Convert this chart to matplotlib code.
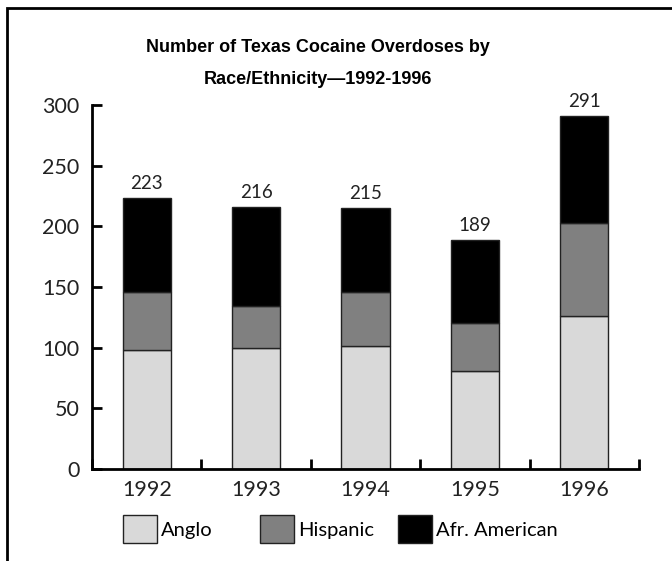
import matplotlib
matplotlib.use("Agg")
import matplotlib.pyplot as plt
from matplotlib.patches import Rectangle
import numpy as np

# overdose counts by year and group
years = ["1992", "1993", "1994", "1995", "1996"]
anglo = [98, 100, 101, 81, 126]
hispanic = [48, 34, 45, 39, 77]
totals = [223, 216, 215, 189, 291]
afr_american = [t - a - h for t, a, h in zip(totals, anglo, hispanic)]

groups = ["Anglo", "Hispanic", "Afr. American"]
colors = ["#d9d9d9", "#808080", "#000000"]
legend_x = [123, 260, 398]  # left edge of each key, px

plt.rcParams["font.family"] = ["Lato", "DejaVu Sans"]

fig = plt.figure(figsize=(6.72, 5.61), dpi=100)
ax = fig.add_axes([92 / 672, 1 - 469 / 561, (639 - 92) / 672, (469 - 105) / 561])

x = np.arange(len(years))
w = 0.44
bottom = np.zeros(len(years))
handles = []
for vals, col, name in zip([anglo, hispanic, afr_american], colors, groups):
    b = ax.bar(x, vals, w, bottom=bottom, color=col, edgecolor="#222222",
               linewidth=1.0, label=name)
    handles.append(b)
    bottom += np.array(vals)

for xi, t in zip(x, totals):
    ax.text(xi, t + 5, str(t), ha="center", va="bottom", fontsize=13.5,
            color="#222222")

ax.set_xlim(-0.5, len(years) - 0.5)
ax.set_ylim(0, 300)
ax.set_yticks(range(0, 301, 50))
ax.set_xticks(x)
ax.set_xticklabels(years)
ax.set_xticks(np.arange(-0.5, len(years), 1.0), minor=True)

for s in ["top", "right"]:
    ax.spines[s].set_visible(False)
for s in ["left", "bottom"]:
    ax.spines[s].set_linewidth(2)

ax.tick_params(axis="y", direction="in", length=7, width=2, pad=9,
               labelsize=15.5, labelcolor="#222222")
ax.tick_params(axis="x", which="major", length=0, pad=8, labelsize=15.5,
               labelcolor="#222222")
ax.tick_params(axis="x", which="minor", direction="in", length=7, width=2)

title_font = ["Liberation Sans", "DejaVu Sans"]
fig.text(0.473, 1 - 48 / 561, "Number of Texas Cocaine Overdoses by",
         ha="center", va="center", fontsize=13, fontweight="bold",
         family=title_font)
fig.text(0.473, 1 - 79 / 561, "Race/Ethnicity\u20141992-1996",
         ha="center", va="center", fontsize=13, fontweight="bold",
         family=title_font)

# one key per group, each placed on its own
for h, name, lx in zip(handles, groups, legend_x):
    fig.legend([h], [name], loc="center left",
               bbox_to_anchor=(lx / 672, 1 - 529 / 561),
               frameon=False, fontsize=14.5, handlelength=1.7,
               handleheight=1.75, handletextpad=0.2,
               borderaxespad=0, borderpad=0)

# outer frame, open to the right and bottom
fig.patches.append(Rectangle((7 / 672, -0.05), 1.1, 1 - 8 / 561 + 0.05,
                             transform=fig.transFigure, fill=False,
                             edgecolor="black", linewidth=2))

fig.savefig("out.png", dpi=100)
